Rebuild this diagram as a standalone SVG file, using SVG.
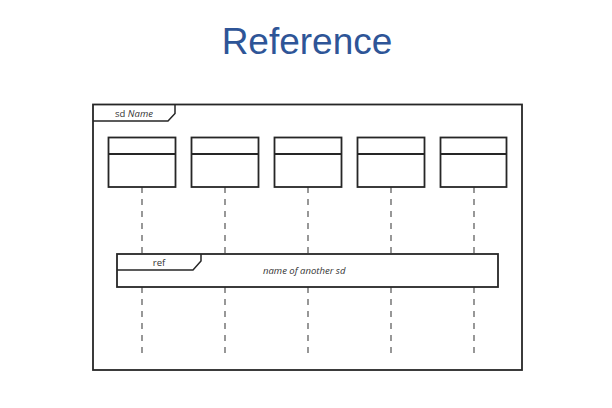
<svg xmlns="http://www.w3.org/2000/svg" width="612" height="408" viewBox="0 0 612 408">
<style>
.frame{fill:#fff;stroke:#262626;stroke-width:1.8}
.tab{fill:none;stroke:#262626;stroke-width:1.5}
.box{fill:#fff;stroke:#262626;stroke-width:1.8}
.life{stroke:#444;stroke-width:1.1;stroke-dasharray:6 6;fill:none}
.lbl{font-family:"Open Sans","Liberation Sans",sans-serif;font-size:9.5px;fill:#333}
</style>
<rect width="612" height="408" fill="#fff"/>
<text x="307" y="54" text-anchor="middle" font-family="Liberation Sans, Arial, sans-serif" font-size="37" fill="#2E5597">Reference</text>
<g id="frame">
<rect class="frame" x="93" y="104.5" width="429" height="265.5"/>
<path class="tab" d="M93,121 H168 L175,113.5 V104.5"/>
<text class="lbl" x="134" y="117" text-anchor="middle">sd <tspan font-style="italic">Name</tspan></text>
</g>
<g id="connectors">
<line class="life" x1="142" y1="187" x2="142" y2="254"/>
<line class="life" x1="225" y1="187" x2="225" y2="254"/>
<line class="life" x1="308" y1="187" x2="308" y2="254"/>
<line class="life" x1="391" y1="187" x2="391" y2="254"/>
<line class="life" x1="474" y1="187" x2="474" y2="254"/>
<line class="life" x1="142" y1="287" x2="142" y2="355"/>
<line class="life" x1="225" y1="287" x2="225" y2="355"/>
<line class="life" x1="308" y1="287" x2="308" y2="355"/>
<line class="life" x1="391" y1="287" x2="391" y2="355"/>
<line class="life" x1="474" y1="287" x2="474" y2="355"/>
</g>
<g id="lifeline1"><rect class="box" x="108.5" y="137.5" width="67" height="49.5"/><line class="box" x1="108.5" y1="154" x2="175.5" y2="154"/></g>
<g id="lifeline2"><rect class="box" x="191.5" y="137.5" width="67" height="49.5"/><line class="box" x1="191.5" y1="154" x2="258.5" y2="154"/></g>
<g id="lifeline3"><rect class="box" x="274.5" y="137.5" width="67" height="49.5"/><line class="box" x1="274.5" y1="154" x2="341.5" y2="154"/></g>
<g id="lifeline4"><rect class="box" x="357.5" y="137.5" width="67" height="49.5"/><line class="box" x1="357.5" y1="154" x2="424.5" y2="154"/></g>
<g id="lifeline5"><rect class="box" x="440.5" y="137.5" width="66" height="49.5"/><line class="box" x1="440.5" y1="154" x2="506.5" y2="154"/></g>
<g id="ref">
<rect class="frame" x="117" y="254" width="381" height="33"/>
<path class="tab" d="M117,270 H193 L201,261 V254"/>
<text class="lbl" x="159" y="265.5" text-anchor="middle">ref</text>
<text class="lbl" x="263" y="274" font-style="italic">name of another sd</text>
</g>
</svg>
